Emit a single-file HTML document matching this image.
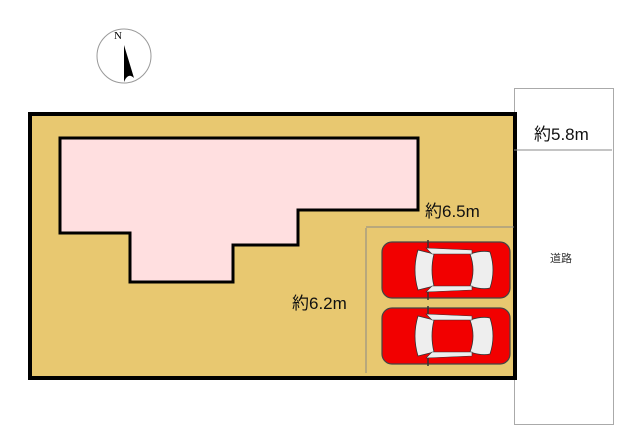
<!DOCTYPE html>
<html><head><meta charset="utf-8"><style>
html,body{margin:0;padding:0;background:#fff;width:640px;height:446px;overflow:hidden}
svg{display:block}
text{font-family:"Liberation Sans","Noto Sans CJK JP",sans-serif}
</style></head><body>
<svg width="640" height="446" viewBox="0 0 640 446">
<defs>
<g id="car">
 <rect x="0" y="0" width="128" height="56" rx="10" fill="#f20000" stroke="#444" stroke-width="1.2"/>
 <path d="M36,8 Q30,28 36,48 L52,44 Q48,28 52,12 Z" fill="#eee" stroke="#333" stroke-width="0.8"/>
 <path d="M88,12 Q100,8 108,10 Q114,28 108,46 Q100,48 88,44 Q94,28 88,12 Z" fill="#eee" stroke="#333" stroke-width="0.8"/>
 <path d="M44,6 L90,8 L90,12 L50,12 Z" fill="#eee" stroke="#333" stroke-width="0.6"/>
 <path d="M44,50 L90,48 L90,44 L50,44 Z" fill="#eee" stroke="#333" stroke-width="0.6"/>
 <line x1="46" y1="-2" x2="46" y2="6" stroke="#333" stroke-width="1.5"/>
 <line x1="46" y1="50" x2="46" y2="58" stroke="#333" stroke-width="1.5"/>
</g>
</defs>
<circle cx="124" cy="56" r="27" fill="#fff" stroke="#999" stroke-width="1"/>
<text x="114" y="39" font-size="11" fill="#000" style="font-family:'Liberation Serif',serif">N</text>
<path d="M124,45 L134,78 Q128,72 124,82 Z" fill="#000"/>
<rect x="514.5" y="88.5" width="99" height="336" fill="#fff" stroke="#aaa" stroke-width="1"/>
<text x="550" y="262" font-size="11" fill="#333">道路</text>
<rect x="30" y="114" width="485" height="264" fill="#e8c870" stroke="#000" stroke-width="4"/>
<polygon points="60,138 418,138 418,210 298,210 298,245 233,245 233,282 130,282 130,233 60,233" fill="#ffdfe0" stroke="#000" stroke-width="3"/>
<line x1="366" y1="227" x2="514" y2="227" stroke="#888" stroke-width="1"/>
<line x1="366" y1="228" x2="366" y2="373" stroke="#888" stroke-width="1"/>
<line x1="514" y1="150" x2="612" y2="150" stroke="#888" stroke-width="1"/>
<text x="425" y="217" font-size="17" fill="#111">約6.5m</text>
<text x="292" y="309" font-size="17" fill="#111">約6.2m</text>
<text x="534" y="140" font-size="17" fill="#111">約5.8m</text>
<use href="#car" x="382" y="242"/>
<use href="#car" x="382" y="308"/>
</svg>
</body></html>
